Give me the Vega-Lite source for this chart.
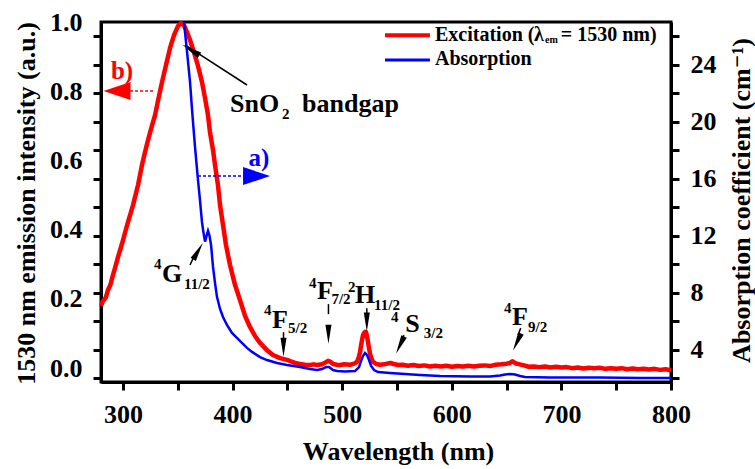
{
  "$schema": "https://vega.github.io/schema/vega-lite/v6.json",
  "width": 570,
  "height": 360,
  "autosize": "none",
  "padding": {"left": 101, "top": 22, "right": 84, "bottom": 87},
  "background": "white",
  "config": {
    "font": "Liberation Serif, Times New Roman, Times, DejaVu Serif, serif",
    "view": {"stroke": "black", "strokeWidth": 3},
    "axis": {
      "labelFont": "Liberation Serif, Times New Roman, Times, DejaVu Serif, serif", "labelFontWeight": "bold", "labelFontSize": 26, "labelColor": "black",
      "titleFont": "Liberation Serif, Times New Roman, Times, DejaVu Serif, serif", "titleFontWeight": "bold", "titleFontSize": 26, "titleColor": "black",
      "domainColor": "black", "domainWidth": 3, "tickColor": "black", "tickWidth": 3, "tickSize": 8,
      "grid": false, "labelFlush": false, "labelOverlap": false, "zindex": 1
    },
    "text": {"font": "Liberation Serif, Times New Roman, Times, DejaVu Serif, serif", "fontWeight": "bold", "align": "left", "baseline": "alphabetic", "color": "black"}
  },
  "layer": [
    {
      "encoding": {
        "x": {"field": "x", "type": "quantitative", "scale": {"domain": [280, 800], "nice": false, "zero": false},
          "axis": {"values": [300, 350, 400, 450, 500, 550, 600, 650, 700, 750, 800], "labelOverlap": false,
            "ticks": true, "tickColor": "black", "tickSize": 8, "tickWidth": 3,
            "labelExpr": "datum.value % 100 == 0 ? datum.label : ''", "labelPadding": 11,
            "title": "Wavelength (nm)", "titleX": 297, "titleY": 69, "titleBaseline": "middle", "titleAlign": "center"}},
        "y": {"field": "y", "type": "quantitative", "scale": {"domain": [-0.04, 1], "nice": false, "zero": false},
          "axis": {"orient": "left", "labelOverlap": false,
            "ticks": true, "tickColor": "black", "tickSize": 8, "tickWidth": 3,
            "values": [-0.0297, 0, 0.0527, 0.135, 0.2, 0.2174, 0.2998, 0.3822, 0.4, 0.4646, 0.547, 0.6, 0.6293, 0.7117, 0.7941, 0.8, 0.8765, 0.9589, 1],
            "labelExpr": "abs(datum.value * 10 - round(datum.value * 10)) < 0.001 ? format(datum.value, '.1f') : ''",
            "tickOpacity": {"condition": {"test": "abs(datum.value * 10 - round(datum.value * 10)) < 0.001", "value": 0}, "value": 1},
            "labelPadding": 11, "title": "1530 nm emission intensity (a.u.)", "titleX": -75, "titleY": 181,
            "titleAngle": 270, "titleBaseline": "middle", "titleAlign": "center"}}
      },
      "layer": [
        {
          "data": {"values": [
            {"x": 280.0, "y": 0.180}, {"x": 281.5, "y": 0.192}, {"x": 282.7, "y": 0.197}, {"x": 284.5, "y": 0.205},
            {"x": 286.4, "y": 0.226}, {"x": 288.5, "y": 0.240}, {"x": 290.9, "y": 0.269}, {"x": 293.0, "y": 0.292},
            {"x": 295.5, "y": 0.321}, {"x": 297.8, "y": 0.345}, {"x": 300.1, "y": 0.370}, {"x": 302.4, "y": 0.397},
            {"x": 304.6, "y": 0.422}, {"x": 307.0, "y": 0.447}, {"x": 309.2, "y": 0.471}, {"x": 311.5, "y": 0.500},
            {"x": 313.8, "y": 0.529}, {"x": 315.6, "y": 0.558}, {"x": 317.4, "y": 0.587}, {"x": 320.0, "y": 0.622},
            {"x": 322.9, "y": 0.659}, {"x": 326.0, "y": 0.695}, {"x": 329.3, "y": 0.731}, {"x": 332.5, "y": 0.780},
            {"x": 335.7, "y": 0.827}, {"x": 339.3, "y": 0.876}, {"x": 343.0, "y": 0.925}, {"x": 346.6, "y": 0.962},
            {"x": 350.2, "y": 0.988}, {"x": 353.0, "y": 0.997}, {"x": 355.7, "y": 0.991}, {"x": 358.5, "y": 0.971},
            {"x": 361.2, "y": 0.948}, {"x": 364.8, "y": 0.913}, {"x": 368.5, "y": 0.873}, {"x": 372.1, "y": 0.827},
            {"x": 374.9, "y": 0.780}, {"x": 377.6, "y": 0.731}, {"x": 379.4, "y": 0.682}, {"x": 382.2, "y": 0.630},
            {"x": 384.0, "y": 0.587}, {"x": 386.7, "y": 0.529}, {"x": 388.6, "y": 0.471}, {"x": 391.3, "y": 0.414},
            {"x": 394.0, "y": 0.356}, {"x": 397.7, "y": 0.298}, {"x": 402.3, "y": 0.240}, {"x": 406.8, "y": 0.197},
            {"x": 411.4, "y": 0.151}, {"x": 415.9, "y": 0.119}, {"x": 420.5, "y": 0.093}, {"x": 425.1, "y": 0.073},
            {"x": 431.4, "y": 0.052}, {"x": 436.9, "y": 0.038}, {"x": 443.3, "y": 0.029}, {"x": 449.7, "y": 0.024},
            {"x": 453.0, "y": 0.020}, {"x": 457.0, "y": 0.015}, {"x": 461.5, "y": 0.012}, {"x": 466.0, "y": 0.010},
            {"x": 470.7, "y": 0.009}, {"x": 474.0, "y": 0.011}, {"x": 477.1, "y": 0.009}, {"x": 481.6, "y": 0.011},
            {"x": 484.5, "y": 0.016}, {"x": 487.1, "y": 0.021}, {"x": 489.5, "y": 0.018}, {"x": 491.7, "y": 0.012},
            {"x": 495.0, "y": 0.010}, {"x": 498.0, "y": 0.009}, {"x": 502.0, "y": 0.011}, {"x": 507.2, "y": 0.010},
            {"x": 511.0, "y": 0.013}, {"x": 513.5, "y": 0.018}, {"x": 515.0, "y": 0.030}, {"x": 516.3, "y": 0.046},
            {"x": 517.2, "y": 0.065}, {"x": 518.1, "y": 0.081}, {"x": 519.0, "y": 0.095}, {"x": 519.9, "y": 0.101},
            {"x": 520.9, "y": 0.105}, {"x": 521.8, "y": 0.104}, {"x": 522.7, "y": 0.092}, {"x": 523.6, "y": 0.075},
            {"x": 524.5, "y": 0.058}, {"x": 525.4, "y": 0.042}, {"x": 527.0, "y": 0.026}, {"x": 528.2, "y": 0.018},
            {"x": 531.0, "y": 0.012}, {"x": 534.5, "y": 0.010}, {"x": 538.0, "y": 0.011}, {"x": 541.0, "y": 0.013},
            {"x": 544.0, "y": 0.015}, {"x": 547.0, "y": 0.012}, {"x": 551.0, "y": 0.009}, {"x": 555.0, "y": 0.010},
            {"x": 560.0, "y": 0.007}, {"x": 565.0, "y": 0.009}, {"x": 570.0, "y": 0.006}, {"x": 575.0, "y": 0.008},
            {"x": 580.0, "y": 0.005}, {"x": 585.0, "y": 0.007}, {"x": 590.0, "y": 0.005}, {"x": 595.0, "y": 0.007},
            {"x": 600.0, "y": 0.004}, {"x": 605.0, "y": 0.006}, {"x": 610.0, "y": 0.005}, {"x": 615.0, "y": 0.007},
            {"x": 620.0, "y": 0.005}, {"x": 625.0, "y": 0.007}, {"x": 630.0, "y": 0.008}, {"x": 635.0, "y": 0.006},
            {"x": 640.0, "y": 0.010}, {"x": 645.0, "y": 0.011}, {"x": 650.0, "y": 0.013}, {"x": 653.0, "y": 0.015},
            {"x": 655.5, "y": 0.020}, {"x": 658.0, "y": 0.014}, {"x": 662.0, "y": 0.011}, {"x": 666.0, "y": 0.008},
            {"x": 670.0, "y": 0.004}, {"x": 675.0, "y": 0.005}, {"x": 680.0, "y": 0.003}, {"x": 685.0, "y": 0.005},
            {"x": 690.0, "y": 0.002}, {"x": 695.0, "y": 0.004}, {"x": 700.0, "y": 0.002}, {"x": 705.0, "y": 0.003},
            {"x": 710.0, "y": 0.000}, {"x": 715.0, "y": 0.002}, {"x": 720.0, "y": -0.001}, {"x": 725.0, "y": 0.001},
            {"x": 730.0, "y": 0.000}, {"x": 735.0, "y": 0.001}, {"x": 740.0, "y": -0.002}, {"x": 745.0, "y": 0.000},
            {"x": 750.0, "y": -0.002}, {"x": 755.0, "y": 0.000}, {"x": 760.0, "y": -0.003}, {"x": 765.0, "y": -0.001},
            {"x": 770.0, "y": -0.003}, {"x": 775.0, "y": -0.002}, {"x": 780.0, "y": -0.004}, {"x": 785.0, "y": -0.002},
            {"x": 790.0, "y": -0.005}, {"x": 795.0, "y": -0.003}, {"x": 800.0, "y": -0.006}
          ]},
          "mark": {"type": "line", "color": "#ff0000", "strokeWidth": 4.5, "strokeJoin": "round"}
        },
        {
          "data": {"values": [
            {"x": 413.2, "y": 0.818, "x2": 356.6, "y2": 0.934},
            {"x": 361.2, "y": 0.298, "x2": 365.2, "y2": 0.325},
            {"x": 446.5, "y": 0.104, "x2": 446.5, "y2": 0.081},
            {"x": 487.5, "y": 0.185, "x2": 487.5, "y2": 0.156},
            {"x": 522.5, "y": 0.173, "x2": 522.5, "y2": 0.153},
            {"x": 556.4, "y": 0.0954, "x2": 554.3, "y2": 0.081},
            {"x": 662.9, "y": 0.1156, "x2": 660.4, "y2": 0.0954}
          ]},
          "mark": {"type": "rule", "color": "black", "strokeWidth": 1.5},
          "encoding": {"x2": {"field": "x2"}, "y2": {"field": "y2"}}
        },
        {
          "data": {"values": [{"x": 306.5, "y": 0.8007, "x2": 327.4, "y2": 0.8007}]},
          "mark": {"type": "rule", "color": "#ff0000", "strokeWidth": 1.5, "strokeDash": [3, 2]},
          "encoding": {"x2": {"field": "x2"}, "y2": {"field": "y2"}}
        },
        {
          "data": {"values": [{"x": 368.5, "y": 0.555, "x2": 411.4, "y2": 0.555}]},
          "mark": {"type": "rule", "color": "#0000ff", "strokeWidth": 1.5, "strokeDash": [3, 2]},
          "encoding": {"x2": {"field": "x2"}, "y2": {"field": "y2"}}
        },
        {
          "data": {"values": [{"x": 539.1, "y": 0.962, "x2": 580.1, "y2": 0.962}]},
          "mark": {"type": "rule", "color": "#ff0000", "strokeWidth": 4},
          "encoding": {"x2": {"field": "x2"}, "y2": {"field": "y2"}}
        },
        {
          "data": {"values": [{"x": 539.1, "y": 0.890, "x2": 580.1, "y2": 0.890}]},
          "mark": {"type": "rule", "color": "#0000ff", "strokeWidth": 3},
          "encoding": {"x2": {"field": "x2"}, "y2": {"field": "y2"}}
        },
        {
          "data": {"values": [{"x": 446.5, "y": 0.0607}, {"x": 487.5, "y": 0.0982}, {"x": 522.5, "y": 0.133}]},
          "mark": {"type": "point", "shape": "M0,-1L-0.32,1L0.32,1Z", "size": 361, "filled": true, "color": "black", "opacity": 1, "angle": 180}
        },
        {
          "data": {"values": [{"x": 552.8, "y": 0.0665}, {"x": 659.5, "y": 0.0751}]},
          "mark": {"type": "point", "shape": "M0,-1L-0.32,1L0.32,1Z", "size": 361, "filled": true, "color": "black", "opacity": 1, "angle": 205}
        },
        {
          "data": {"values": [{"x": 368.5, "y": 0.338}]},
          "mark": {"type": "point", "shape": "M0,-1L-0.32,1L0.32,1Z", "size": 361, "filled": true, "color": "black", "opacity": 1, "angle": 30}
        },
        {
          "data": {"values": [{"x": 362.1, "y": 0.919}]},
          "mark": {"type": "point", "shape": "M0,-1L-0.32,1L0.32,1Z", "size": 400, "filled": true, "color": "black", "opacity": 1, "angle": 302}
        },
        {
          "data": {"values": [{"x": 294.6, "y": 0.8007}]},
          "mark": {"type": "point", "shape": "M0,-1L-0.67,1L0.67,1Z", "size": 729, "filled": true, "color": "#ff0000", "opacity": 1, "angle": 270}
        },
        {
          "data": {"values": [{"x": 421.9, "y": 0.555}]},
          "mark": {"type": "point", "shape": "M0,-1L-0.67,1L0.67,1Z", "size": 729, "filled": true, "color": "#0000ff", "opacity": 1, "angle": 90}
        },
        {
          "data": {"values": [
            {"x": 335.7, "y": 0.249, "t": "G"},
            {"x": 436.0, "y": 0.116, "t": "F"},
            {"x": 477.1, "y": 0.1993, "t": "F"},
            {"x": 511.7, "y": 0.1878, "t": "H"},
            {"x": 557.5, "y": 0.104, "t": "S"},
            {"x": 655.0, "y": 0.1242, "t": "F"},
            {"x": 397.7, "y": 0.740, "t": "SnO"},
            {"x": 463.4, "y": 0.740, "t": "bandgap"}
          ]},
          "mark": {"type": "text", "fontSize": 26},
          "encoding": {"text": {"field": "t"}}
        },
        {
          "data": {"values": [
            {"x": 328.4, "y": 0.2865, "t": "4"},
            {"x": 355.7, "y": 0.2287, "t": "11/2"},
            {"x": 428.7, "y": 0.1536, "t": "4"},
            {"x": 450.6, "y": 0.1017, "t": "5/2"},
            {"x": 469.8, "y": 0.2311, "t": "4"},
            {"x": 490.2, "y": 0.1849, "t": "7/2"},
            {"x": 505.3, "y": 0.2200, "t": "2"},
            {"x": 529.1, "y": 0.1680, "t": "11/2"},
            {"x": 544.5, "y": 0.1333, "t": "4"},
            {"x": 574.5, "y": 0.0871, "t": "3/2"},
            {"x": 647.7, "y": 0.1593, "t": "4"},
            {"x": 669.6, "y": 0.1044, "t": "9/2"},
            {"x": 445.1, "y": 0.7198, "t": "2"}
          ]},
          "mark": {"type": "text", "fontSize": 15},
          "encoding": {"text": {"field": "t"}}
        },
        {
          "data": {"values": [{"x": 424.1, "y": 0.607, "t": "a)"}]},
          "mark": {"type": "text", "fontSize": 25, "color": "#0000ff", "align": "center", "baseline": "middle"},
          "encoding": {"text": {"field": "t"}}
        },
        {
          "data": {"values": [{"x": 299.2, "y": 0.858, "t": "b)"}]},
          "mark": {"type": "text", "fontSize": 25, "color": "#ff0000", "align": "center", "baseline": "middle"},
          "encoding": {"text": {"field": "t"}}
        },
        {
          "data": {"values": [
            {"x": 584.7, "y": 0.946, "t": "Excitation ("},
            {"x": 675.0, "y": 0.946, "t": "λ"},
            {"x": 699.5, "y": 0.946, "t": "= 1530 nm)"},
            {"x": 584.7, "y": 0.8758, "t": "Absorption"}
          ]},
          "mark": {"type": "text", "fontSize": 20},
          "encoding": {"text": {"field": "t"}}
        },
        {
          "data": {"values": [{"x": 685.0, "y": 0.940, "t": "em"}]},
          "mark": {"type": "text", "fontSize": 10},
          "encoding": {"text": {"field": "t"}}
        }
      ]
    },
    {
      "data": {"values": [
        {"x": 355.7, "y": 27.0}, {"x": 358.5, "y": 24.9}, {"x": 361.2, "y": 22.8}, {"x": 363.5, "y": 20.4},
        {"x": 365.8, "y": 18.2}, {"x": 368.5, "y": 15.9}, {"x": 370.3, "y": 14.5}, {"x": 372.1, "y": 12.98},
        {"x": 373.4, "y": 12.28}, {"x": 374.9, "y": 11.6}, {"x": 376.3, "y": 12.0}, {"x": 377.6, "y": 12.35},
        {"x": 379.0, "y": 12.0}, {"x": 380.4, "y": 11.36}, {"x": 382.2, "y": 9.82}, {"x": 384.0, "y": 8.70},
        {"x": 385.8, "y": 7.72}, {"x": 388.6, "y": 6.87}, {"x": 391.3, "y": 6.31}, {"x": 394.9, "y": 5.75},
        {"x": 399.5, "y": 5.19}, {"x": 404.0, "y": 4.84}, {"x": 408.6, "y": 4.49}, {"x": 413.2, "y": 4.14},
        {"x": 417.8, "y": 3.86}, {"x": 425.1, "y": 3.50}, {"x": 431.4, "y": 3.29}, {"x": 440.6, "y": 3.08},
        {"x": 449.7, "y": 2.94}, {"x": 461.5, "y": 2.80}, {"x": 470.7, "y": 2.66}, {"x": 477.1, "y": 2.59},
        {"x": 481.6, "y": 2.66}, {"x": 485.3, "y": 2.80}, {"x": 488.0, "y": 2.80}, {"x": 491.7, "y": 2.59},
        {"x": 495.3, "y": 2.52}, {"x": 502.6, "y": 2.49}, {"x": 511.7, "y": 2.52}, {"x": 515.4, "y": 2.80},
        {"x": 517.2, "y": 3.22}, {"x": 519.0, "y": 3.57}, {"x": 520.9, "y": 3.79}, {"x": 522.7, "y": 3.64},
        {"x": 524.5, "y": 3.29}, {"x": 526.4, "y": 2.87}, {"x": 529.1, "y": 2.59}, {"x": 532.7, "y": 2.45},
        {"x": 543.7, "y": 2.38}, {"x": 571.0, "y": 2.24}, {"x": 589.3, "y": 2.17}, {"x": 616.6, "y": 2.14},
        {"x": 634.9, "y": 2.14}, {"x": 644.0, "y": 2.21}, {"x": 648.6, "y": 2.28}, {"x": 653.2, "y": 2.31},
        {"x": 657.7, "y": 2.28}, {"x": 662.3, "y": 2.17}, {"x": 666.8, "y": 2.10}, {"x": 689.6, "y": 2.07},
        {"x": 735.2, "y": 2.07}, {"x": 771.7, "y": 2.03}, {"x": 800.0, "y": 2.03}
      ]},
      "mark": {"type": "line", "color": "#0000ff", "strokeWidth": 2.5, "clip": true},
      "encoding": {
        "x": {"field": "x", "type": "quantitative", "scale": {"domain": [280, 800], "nice": false, "zero": false}},
        "y": {"field": "y", "type": "quantitative", "scale": {"domain": [1.75, 27], "nice": false, "zero": false},
          "axis": {"orient": "right", "values": [2, 4, 6, 8, 10, 12, 14, 16, 18, 20, 22, 24, 26], "labelOverlap": false,
            "labelExpr": "datum.value % 4 == 0 ? datum.label : ''", "labelPadding": 11,
            "title": "Absorption coefficient (cm⁻¹)", "titleX": 70, "titleY": 178, "titleAngle": 270,
            "titleBaseline": "middle", "titleAlign": "center"}}
      }
    }
  ],
  "resolve": {"scale": {"y": "independent"}}
}
